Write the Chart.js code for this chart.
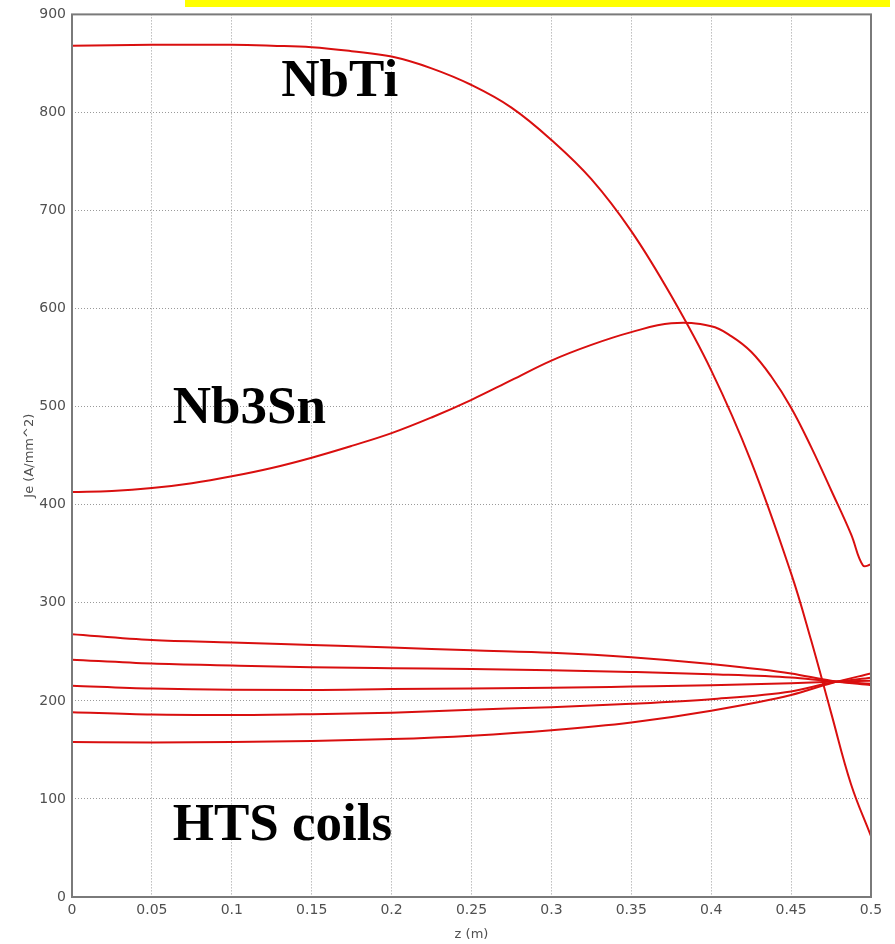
<!DOCTYPE html>
<html>
<head>
<meta charset="utf-8">
<script src="https://cdn.jsdelivr.net/npm/chart.js@4.4.1/dist/chart.umd.min.js"></script>
<style>
  html, body { margin: 0; padding: 0; background: #fff; }
  canvas { display: block; }
</style>
</head>
<body>
<canvas id="jeChart" width="895" height="944"></canvas>
<script>
"use strict";

// Je (A/mm^2) along the coil axis z (m)
const zNbTi  = [0, 0.025, 0.05, 0.075, 0.1, 0.125, 0.15, 0.175, 0.2, 0.225, 0.25, 0.275, 0.3, 0.325, 0.35, 0.375, 0.4, 0.425, 0.45, 0.4625, 0.475, 0.4875, 0.5];
const jeNbTi = [868, 868.5, 869, 869, 869, 868, 866.5, 862.5, 857, 845, 828, 805, 772, 732, 679, 613, 537, 444, 330, 262, 188, 115, 62];

const zNb3Sn  = [0, 0.025, 0.05, 0.075, 0.1, 0.125, 0.15, 0.175, 0.2, 0.225, 0.25, 0.275, 0.3, 0.325, 0.35, 0.375, 0.4, 0.4125, 0.425, 0.4375, 0.45, 0.4625, 0.475, 0.4875, 0.495, 0.5];
const jeNb3Sn = [413, 414, 417, 422, 429, 437.5, 448, 460, 473, 489, 507, 527, 547, 563, 576, 585, 582, 572, 556, 531, 499, 459, 415, 370, 338, 339];

// five HTS coils share the same sample positions
const zHts   = [0, 0.05, 0.1, 0.15, 0.2, 0.25, 0.3, 0.35, 0.4, 0.45, 0.475, 0.5];
const jeHts1 = [268, 262, 259.5, 257, 254.5, 251.5, 249, 244.5, 237.5, 228, 220.5, 216];
const jeHts2 = [242, 238, 236, 234.3, 233.3, 232.5, 231.3, 229.5, 227.2, 223.8, 220, 217.5];
const jeHts3 = [215.5, 212.5, 211.3, 211.2, 212, 212.5, 213.3, 214.6, 216, 218, 219.5, 220.5];
const jeHts4 = [188.5, 186, 185.5, 186.4, 188, 191, 193.6, 197, 201.7, 209.5, 218.5, 223.5];
const jeHts5 = [158, 157.5, 158, 159, 161, 164.5, 170, 178, 190, 206, 218, 228];

// axis ticks
const zTicks      = [0, 0.05, 0.1, 0.15, 0.2, 0.25, 0.3, 0.35, 0.4, 0.45, 0.5];
const zTickLabels = ["0", "0.05", "0.1", "0.15", "0.2", "0.25", "0.3", "0.35", "0.4", "0.45", "0.5"];
const jeTicks      = [0, 100, 200, 300, 400, 500, 600, 700, 800, 900];
const jeTickLabels = ["0", "100", "200", "300", "400", "500", "600", "700", "800", "900"];

// in-plot captions, anchored in data coordinates
const captions = [
    { text: "NbTi",      z: 0.131, je: 817 },
    { text: "Nb3Sn",     z: 0.063, je: 483 },
    { text: "HTS coils", z: 0.063, je: 58 }
];

const toPoints = (xs, ys) => xs.map((x, i) => ({ x: x, y: ys[i] }));

const curve = (data, mode) => ({
    data: data,
    borderColor: "#d90f0f",
    borderWidth: 2,
    pointRadius: 0,
    fill: false,
    tension: 0.4,
    cubicInterpolationMode: mode || "default"
});

// frame, captions and the highlight strip above the plot
const decorations = {
    id: "decorations",
    afterDatasetsDraw(chart) {
        const { ctx, chartArea: a, scales } = chart;
        ctx.save();
        ctx.strokeStyle = "#7a7a7a";
        ctx.lineWidth = 2;
        ctx.strokeRect(a.left, a.top, a.right - a.left, a.bottom - a.top);

        ctx.fillStyle = "#000";
        ctx.font = "bold 53px 'Liberation Serif', 'Times New Roman', serif";
        ctx.textAlign = "left";
        ctx.textBaseline = "alphabetic";
        captions.forEach(c => {
            ctx.fillText(c.text, scales.x.getPixelForValue(c.z), scales.y.getPixelForValue(c.je));
        });

        ctx.fillStyle = "#ffff00";
        ctx.fillRect(185, 0, 705, 7);
        ctx.restore();
    }
};

const tickFont = { family: "'DejaVu Sans', Verdana, sans-serif", size: 14 };
const titleFont = { family: "'DejaVu Sans', Verdana, sans-serif", size: 13 };

new Chart(document.getElementById("jeChart"), {
    type: "line",
    data: {
        datasets: [
            curve(toPoints(zNbTi, jeNbTi)),
            curve(toPoints(zNb3Sn, jeNb3Sn)),
            curve(toPoints(zHts, jeHts1), "monotone"),
            curve(toPoints(zHts, jeHts2), "monotone"),
            curve(toPoints(zHts, jeHts3), "monotone"),
            curve(toPoints(zHts, jeHts4), "monotone"),
            curve(toPoints(zHts, jeHts5), "monotone")
        ]
    },
    options: {
        responsive: false,
        animation: false,
        layout: { padding: { top: 14, right: 24, left: 0, bottom: 0 } },
        plugins: { legend: { display: false }, tooltip: { enabled: false } },
        scales: {
            x: {
                type: "linear",
                min: 0,
                max: 0.5,
                afterBuildTicks: s => { s.ticks = zTicks.map(v => ({ value: v })); },
                afterFit: s => { s.height = 47; },
                ticks: {
                    color: "#505050",
                    font: tickFont,
                    padding: 5,
                    maxRotation: 0,
                    callback: (v, i) => zTickLabels[i]
                },
                grid: { color: "#9a9a9a", lineWidth: 1, drawTicks: false },
                border: { display: false, dash: [1, 2] },
                title: {
                    display: true,
                    text: "z (m)",
                    color: "#505050",
                    font: titleFont,
                    padding: { top: 0, bottom: 2 }
                }
            },
            y: {
                type: "linear",
                min: 0,
                max: 900,
                afterBuildTicks: s => { s.ticks = jeTicks.map(v => ({ value: v })); },
                afterFit: s => { s.width = 72; },
                ticks: {
                    color: "#505050",
                    font: tickFont,
                    padding: 6,
                    callback: (v, i) => jeTickLabels[i]
                },
                grid: { color: "#9a9a9a", lineWidth: 1, drawTicks: false },
                border: { display: false, dash: [1, 2] },
                title: {
                    display: true,
                    text: "Je (A/mm^2)",
                    color: "#505050",
                    font: titleFont,
                    padding: { top: 22, bottom: 0 }
                }
            }
        }
    },
    plugins: [decorations]
});
</script>
</body>
</html>
